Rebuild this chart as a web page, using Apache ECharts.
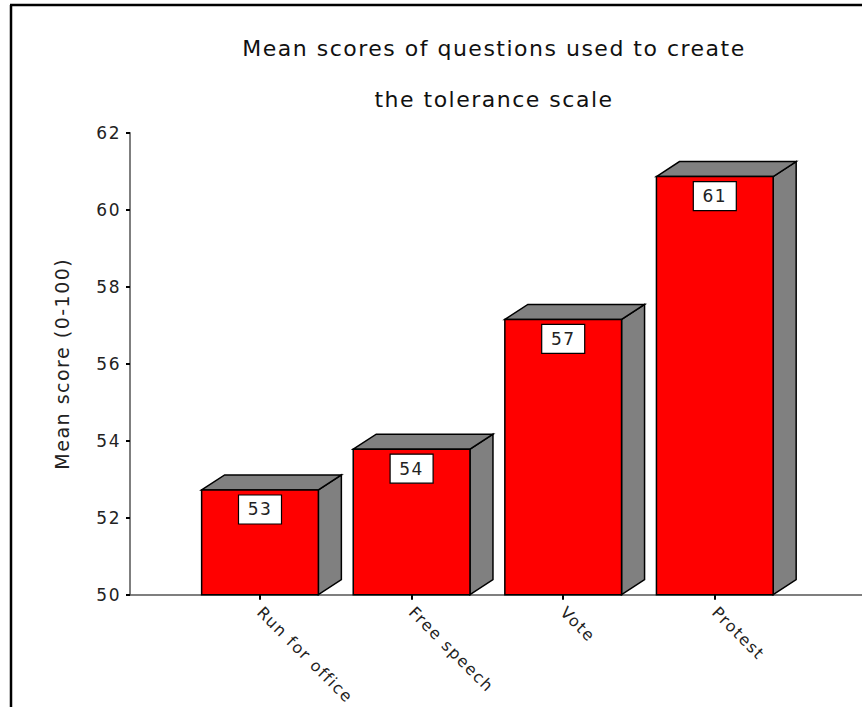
<!DOCTYPE html>
<html>
<head>
<meta charset="utf-8">
<script src="https://cdn.jsdelivr.net/npm/echarts@6/dist/echarts.min.js"></script>
<style>
  html, body { margin: 0; padding: 0; background: #fff; }
  #main { width: 862px; height: 707px; }
  #main svg text { letter-spacing: 1.5px; }
</style>
</head>
<body>
<div id="main"></div>
<script>
// ---- data ----
const titleLines = ['Mean scores of questions used to create', 'the tolerance scale'];
const categories = ['Run for office', 'Free speech', 'Vote', 'Protest'];
const meanScores = [52.72, 53.78, 57.15, 60.86];
const yAxisName = 'Mean score (0-100)';
const yMin = 50, yMax = 62, yStep = 2;

const FONT = '"DejaVu Sans", "Liberation Sans", Arial, sans-serif';
const DX = 23, DY = 15;

const chart = echarts.init(document.getElementById('main'), null, { renderer: 'svg' });

function renderBar(params, api) {
  const idx = api.value(0);
  const v = api.value(1);
  const topPt = api.coord([idx, v]);
  const basePt = api.coord([idx, yMin]);
  const band = api.size([1, 0])[0];
  const w = band * 0.77;
  const xl = topPt[0] - w / 2, xr = topPt[0] + w / 2;
  const yt = topPt[1], yb = basePt[1];
  const stroke = { stroke: '#000', lineWidth: 1.5, lineJoin: 'miter' };
  const label = String(Math.round(v));
  const bw = 43, bh = 29;
  return {
    type: 'group',
    children: [
      { type: 'polygon', shape: { points: [[xr, yt], [xr + DX, yt - DY], [xr + DX, yb - DY], [xr, yb]] },
        style: Object.assign({ fill: '#808080' }, stroke) },
      { type: 'polygon', shape: { points: [[xl, yt], [xl + DX, yt - DY], [xr + DX, yt - DY], [xr, yt]] },
        style: Object.assign({ fill: '#808080' }, stroke) },
      { type: 'rect', shape: { x: xl, y: yt, width: w, height: yb - yt },
        style: Object.assign({ fill: '#ff0000' }, stroke) },
      { type: 'rect', shape: { x: topPt[0] - bw / 2, y: yt + 5, width: bw, height: bh },
        style: { fill: '#fff', stroke: '#000', lineWidth: 1.2 } },
      { type: 'text', x: topPt[0], y: yt + 5 + bh / 2,
        style: { text: label, font: '17px ' + FONT, fill: '#222', align: 'center', verticalAlign: 'middle' } }
    ]
  };
}

const option = {
  backgroundColor: '#fff',
  animation: false,
  title: [
    { text: titleLines[0], left: 489, top: 32, textAlign: 'center',
      textStyle: { fontFamily: FONT, fontSize: 22, fontWeight: 'normal', color: '#111' } },
    { text: titleLines[1], left: 489, top: 83, textAlign: 'center',
      textStyle: { fontFamily: FONT, fontSize: 22, fontWeight: 'normal', color: '#111' } }
  ],
  graphic: [
    { type: 'line', shape: { x1: 11, y1: 5, x2: 11, y2: 707 }, style: { stroke: '#000', lineWidth: 2.5 } },
    { type: 'line', shape: { x1: 10, y1: 5, x2: 862, y2: 5 }, style: { stroke: '#000', lineWidth: 2.5 } }
  ],
  grid: [
    { left: 130, right: 0, top: 132.7, bottom: 112.3 },
    { left: 184.2, width: 606.4, top: 132.7, bottom: 112.3 }
  ],
  xAxis: [
    { gridIndex: 0, type: 'value', min: 0, max: 1, show: true,
      axisLine: { show: true, lineStyle: { color: '#555', width: 1.5 } },
      axisTick: { show: false }, axisLabel: { show: false }, splitLine: { show: false } },
    { gridIndex: 1, type: 'category', data: categories, boundaryGap: true,
      axisLine: { show: false },
      axisTick: { show: true, alignWithLabel: true, length: 5, lineStyle: { color: '#000', width: 2 } },
      axisLabel: { rotate: -45, margin: 15, fontFamily: FONT, fontSize: 16, color: '#222' },
      splitLine: { show: false } }
  ],
  yAxis: [
    { gridIndex: 0, type: 'value', min: yMin, max: yMax, interval: yStep,
      name: yAxisName, nameLocation: 'middle', nameGap: 59,
      nameTextStyle: { fontFamily: FONT, fontSize: 19, color: '#222' },
      axisLine: { show: true, lineStyle: { color: '#555', width: 1.5 } },
      axisTick: { show: true, length: 4, lineStyle: { color: '#000', width: 2 } },
      axisLabel: { margin: 9, fontFamily: FONT, fontSize: 17, color: '#222' },
      splitLine: { show: false } },
    { gridIndex: 1, type: 'value', min: yMin, max: yMax, interval: yStep, show: false }
  ],
  series: [
    { type: 'custom', xAxisIndex: 1, yAxisIndex: 1, renderItem: renderBar,
      data: meanScores.map((v, i) => [i, v]), clip: false, z: 3 }
  ]
};
chart.setOption(option);
</script>
</body>
</html>
